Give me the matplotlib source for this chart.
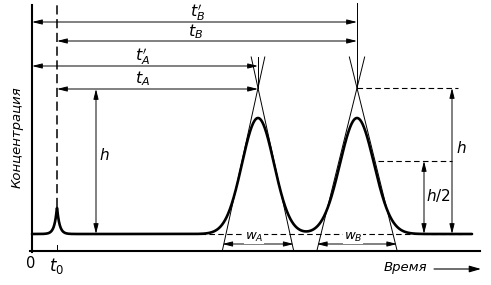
import numpy as np
import matplotlib
matplotlib.use("Agg")
from matplotlib import pyplot as plt

# Chromatogram parameters (time and concentration in arbitrary units)
t_0 = 25                      # dead time, small unretained peak
peak_times = [226, 325]       # t_A, t_B
peak_heights = [116, 116]
peak_sigmas = [16, 17]
half_base_widths = [32, 36]   # half of w_A, w_B at the baseline
baseline = 17
h_apex = 146                  # tangent intersection above baseline
spike_height = 27
spike_width = 2.5

labels_time = [r"$t^{\prime}_B$", r"$t_B$", r"$t^{\prime}_A$", r"$t_A$"]

fig = plt.figure(figsize=(4.91, 2.85), dpi=100)
ax = fig.add_axes([0, 0, 1, 1])
ax.set_xlim(-32, 459)
ax.set_ylim(-34, 251)
ax.axis("off")

# Curve
t = np.linspace(0, 440, 2000)
conc = baseline + spike_height * np.exp(-np.abs(t - t_0) / spike_width)
for tp, hp, sp in zip(peak_times, peak_heights, peak_sigmas):
    conc += hp * np.exp(-0.5 * ((t - tp) / sp) ** 2)
ax.plot(t, conc, color="black", lw=1.9, solid_capstyle="round")

# Axes lines
ax.plot([0, 0], [-1, 246], color="black", lw=1.5)
ax.plot([-2, 448], [0, 0], color="black", lw=1.5)

thin = dict(color="black", lw=0.7)
dash = dict(color="black", lw=0.8, ls=(0, (5, 3)))

def arrow(p1, p2):
    ax.annotate("", xy=p2, xytext=p1,
                arrowprops=dict(arrowstyle="<|-|>,head_length=0.6,head_width=0.15",
                                color="black", lw=0.7, shrinkA=0, shrinkB=0))

# Dead time marker
ax.plot([t_0, t_0], [44, 248], color="black", lw=1.1, ls=(0, (6, 3)))
ax.plot([t_0, t_0], [0, 6], **thin)

# Tangents and vertical lines at the peaks
apex = baseline + h_apex
top = 194
for tp, hw in zip(peak_times, half_base_widths):
    slope = hw / h_apex  # time per concentration unit
    for sgn in (-1, 1):
        x_top = tp - sgn * slope * (top - apex)
        x_bot = tp + sgn * slope * apex
        ax.plot([x_top, x_bot], [top, 0], **thin)
ax.plot([peak_times[0]] * 2, [apex, top], **thin)
ax.plot([peak_times[1]] * 2, [apex, 248], **thin)

# Retention time arrows
tA, tB = peak_times
arrow((0, 229), (tB, 229))
arrow((t_0, 210), (tB, 210))
arrow((0, 185), (tA, 185))
arrow((t_0, 162), (tA, 162))
label_pos = [(166, 239), (164, 219), (111, 195), (111, 172)]
for lab, (x, y) in zip(labels_time, label_pos):
    ax.text(x, y, lab, fontsize=11.5, ha="center", va="center")

# Height h on the left
arrow((64, 162), (64, baseline))
ax.text(72, 96, r"$h$", fontsize=11, ha="center", va="center")

# Right side: h and h/2
ax.plot([tB, 426], [apex, apex], **dash)
half = baseline + h_apex / 2
ax.plot([346, 420], [half, half], **dash)
arrow((420, apex), (420, baseline))
arrow((392, half), (392, baseline))
ax.text(429, 103, r"$h$", fontsize=11, ha="center", va="center")
ax.text(406, 55, r"$h/2$", fontsize=11, ha="center", va="center")

# Baseline extension and peak widths
ax.plot([168, 430], [baseline, baseline], **dash)
for tp, hw, lab in zip(peak_times, half_base_widths, [r"$w_A$", r"$w_B$"]):
    w_ax = hw * (apex) / h_apex
    arrow((tp - w_ax, 7), (tp + w_ax, 7))
    ax.text(tp - 4, 14, lab, fontsize=9.5, ha="center", va="center",
            bbox=dict(facecolor="white", edgecolor="none", pad=0.5))

# Axis labels
ax.text(-1, -12, "0", fontsize=10.5, ha="center", va="center")
ax.text(t_0, -15, r"$t_0$", fontsize=12, ha="center", va="center")
ax.text(-15, 114, "Концентрация", fontsize=9.5, style="italic",
        rotation=90, ha="center", va="center")
ax.text(373, -17, "Время", fontsize=9.5, style="italic", ha="center", va="center")
ax.annotate("", xy=(449, -18), xytext=(402, -18),
            arrowprops=dict(arrowstyle="-|>,head_length=0.7,head_width=0.2",
                            color="black", lw=0.8, shrinkA=0, shrinkB=0))

fig.savefig("out.png", dpi=100)
